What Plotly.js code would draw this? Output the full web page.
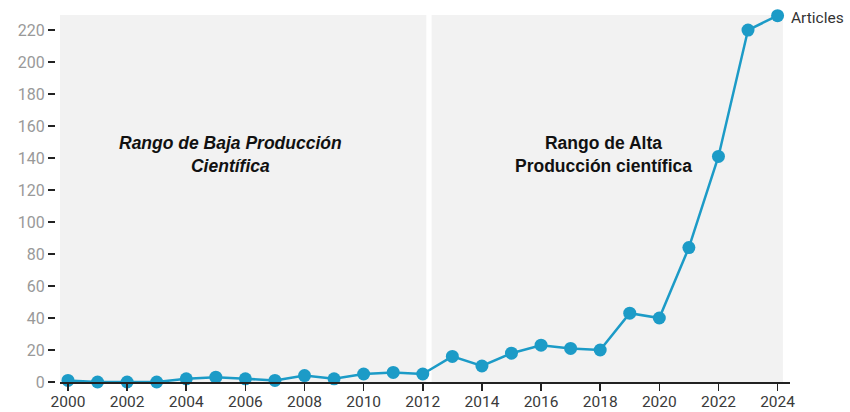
<!DOCTYPE html>
<html>
<head>
<meta charset="utf-8">
<script src="https://cdn.plot.ly/plotly-3.0.1.min.js"></script>
<style>html,body{margin:0;padding:0;background:#fff;}#chart{width:850px;height:412px;}</style>
</head>
<body>
<div id="chart"></div>
<script>
const years = [2000,2001,2002,2003,2004,2005,2006,2007,2008,2009,2010,2011,2012,2013,2014,2015,2016,2017,2018,2019,2020,2021,2022,2023,2024];
const articles = [1,0,0,0,2,3,2,1,4,2,5,6,5,16,10,18,23,21,20,43,40,84,141,220,229];
const seriesName = 'Articles';
const lowRange = [1999.73, 2012.12];
const highRange = [2012.3, 2024.18];
const lowLabel = '<i>Rango de Baja Producción<br>Científica</i>';
const highLabel = 'Rango de Alta<br>Producción científica';

const col = '#1c9bc7';
const trace = {
  x: years, y: articles, type: 'scatter', mode: 'lines+markers', name: seriesName,
  line: {color: col, width: 2.5},
  marker: {color: col, size: 13},
  cliponaxis: false, showlegend: false
};
const layout = {
  width: 850, height: 412,
  margin: {l: 55, r: 60, t: 15, b: 30},
  paper_bgcolor: '#fff', plot_bgcolor: '#fff',
  font: {family: 'Roboto, sans-serif'},
  xaxis: {
    domain: [0.0068, 1], range: [1999.73, 2024.42], dtick: 2, tick0: 2000,
    showgrid: false, zeroline: false, showline: true, linecolor: '#222', linewidth: 1.5,
    ticks: 'outside', ticklen: 7, tickcolor: '#222', tickwidth: 1.5,
    ticklabelstandoff: -2,
    tickfont: {size: 15.5, color: '#3a3a3a'}
  },
  yaxis: {
    range: [0, 229.4], dtick: 20, anchor: 'free', position: 0,
    showgrid: false, zeroline: false, showline: false,
    ticks: 'outside', ticklen: 7, tickcolor: '#222', tickwidth: 1.5,
    tickfont: {size: 16, color: '#999'}
  },
  shapes: [
    {type: 'rect', xref: 'x', yref: 'paper', x0: lowRange[0], x1: lowRange[1], y0: 0, y1: 1, fillcolor: '#f2f2f2', line: {width: 0}, layer: 'below'},
    {type: 'rect', xref: 'x', yref: 'paper', x0: highRange[0], x1: highRange[1], y0: 0, y1: 1, fillcolor: '#f2f2f2', line: {width: 0}, layer: 'below'}
  ],
  annotations: [
    {x: 2005.5, y: 142, xref: 'x', yref: 'y', text: lowLabel, showarrow: false, align: 'center',
     font: {family: 'Liberation Sans, Arial, sans-serif', size: 17.5, color: '#111', weight: 'bold'}},
    {x: 2018.1, y: 142, xref: 'x', yref: 'y', text: highLabel, showarrow: false, align: 'center',
     font: {family: 'Liberation Sans, Arial, sans-serif', size: 17.5, color: '#111', weight: 'bold'}},
    {x: years[years.length-1], y: articles[articles.length-1], xref: 'x', yref: 'y', text: seriesName,
     showarrow: false, xanchor: 'left', xshift: 11, yshift: -2, font: {size: 15.5, color: '#333'}}
  ]
};
Plotly.newPlot('chart', [trace], layout, {displayModeBar: false, staticPlot: true});
</script>
</body>
</html>
